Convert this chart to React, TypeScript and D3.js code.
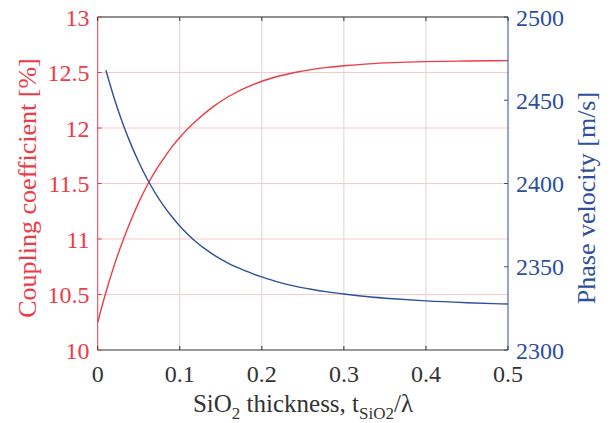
import React from "react";
import * as d3 from "d3";

const xTicks = [0, 0.1, 0.2, 0.3, 0.4, 0.5];
const yLeftTicks = [10, 10.5, 11, 11.5, 12, 12.5, 13];
const yRightTicks = [2300, 2350, 2400, 2450, 2500];

const couplingX = [0, 0.01, 0.02, 0.03, 0.04, 0.05, 0.06, 0.07, 0.08, 0.09, 0.1, 0.12, 0.14, 0.16, 0.18, 0.2, 0.22, 0.24, 0.26, 0.28, 0.3, 0.33, 0.36, 0.4, 0.45, 0.5];
const couplingY = [10.25, 10.52, 10.76, 10.97, 11.16, 11.33, 11.48, 11.61, 11.72, 11.825, 11.915, 12.065, 12.188, 12.286, 12.362, 12.421, 12.466, 12.5, 12.526, 12.546, 12.561, 12.578, 12.589, 12.598, 12.604, 12.607];

const velocityX = [0.01, 0.02, 0.03, 0.04, 0.05, 0.06, 0.07, 0.08, 0.09, 0.1, 0.11, 0.12, 0.13, 0.14, 0.15, 0.16, 0.17, 0.18, 0.19, 0.2, 0.22, 0.24, 0.26, 0.28, 0.3, 0.33, 0.36, 0.4, 0.45, 0.5];
const velocityY = [2468, 2451.4, 2436.8, 2424.1, 2412.9, 2403, 2394.4, 2386.9, 2380.3, 2374.5, 2369.4, 2364.9, 2361, 2357.6, 2354.6, 2351.9, 2349.6, 2347.5, 2345.6, 2343.9, 2340.8, 2338.4, 2336.5, 2334.9, 2333.6, 2332, 2330.8, 2329.5, 2328.4, 2327.6];

const RED = "#ee3b45";
const BLUE = "#2d4f9e";
const FONT = "'Liberation Serif', 'Times New Roman', serif";

export default function App() {
  const W = 614, H = 423;
  const L = 97.7, R = 508, T = 17, B = 350;
  const x = d3.scaleLinear().domain([0, 0.5]).range([L, R]);
  const yl = d3.scaleLinear().domain([10, 13]).range([B, T]);
  const yr = d3.scaleLinear().domain([2300, 2500]).range([B, T]);

  const redLine = d3.line<number>().x((_, i) => x(couplingX[i])).y((d) => yl(d)).curve(d3.curveMonotoneX)(couplingY) || "";
  const blueLine = d3.line<number>().x((_, i) => x(velocityX[i])).y((d) => yr(d)).curve(d3.curveMonotoneX)(velocityY) || "";

  return (
    <svg width={W} height={H} style={{ position: "absolute", left: 0, top: 0, background: "#fff", fontFamily: FONT }}>
      <rect x={0} y={0} width={W} height={H} fill="#fff" />
      {xTicks.slice(1, -1).map((t) => (
        <line key={"vg" + t} x1={x(t)} x2={x(t)} y1={T} y2={B} stroke="#d6d6d6" strokeWidth={1} />
      ))}
      {yLeftTicks.slice(1, -1).map((t) => (
        <line key={"hg" + t} x1={L} x2={R} y1={yl(t)} y2={yl(t)} stroke="#f9c9cc" strokeWidth={1} />
      ))}
      <path d={redLine} fill="none" stroke={RED} strokeWidth={1.4} />
      <path d={blueLine} fill="none" stroke={BLUE} strokeWidth={1.4} />
      <line x1={L} x2={R} y1={T} y2={T} stroke="#222" strokeWidth={1} />
      <line x1={L} x2={R} y1={B} y2={B} stroke="#333" strokeWidth={1} />
      <line x1={L} x2={L} y1={T} y2={B} stroke={RED} strokeWidth={1} />
      <line x1={R} x2={R} y1={T} y2={B} stroke={BLUE} strokeWidth={1} />
      {xTicks.map((t) => (
        <g key={"xt" + t}>
          <line x1={x(t)} x2={x(t)} y1={B} y2={B - 4} stroke="#333" />
          <line x1={x(t)} x2={x(t)} y1={T} y2={T + 4} stroke="#333" />
          <text x={x(t)} y={382} textAnchor="middle" fontSize={24} fill="#333">{String(t)}</text>
        </g>
      ))}
      {yLeftTicks.map((t) => (
        <g key={"yl" + t}>
          <line x1={L} x2={L + 4} y1={yl(t)} y2={yl(t)} stroke={RED} />
          <text x={89.5} y={yl(t) + 8.5} textAnchor="end" fontSize={24} fill={RED}>{String(t)}</text>
        </g>
      ))}
      {yRightTicks.map((t) => (
        <g key={"yr" + t}>
          <line x1={R} x2={R - 4} y1={yr(t)} y2={yr(t)} stroke={BLUE} />
          <text x={516} y={yr(t) + 8.5} textAnchor="start" fontSize={24} fill={BLUE}>{String(t)}</text>
        </g>
      ))}
      <text transform={`translate(36,188) rotate(-90)`} textAnchor="middle" fontSize={26} fill={RED}>Coupling coefficient [%]</text>
      <text transform={`translate(595,198) rotate(-90)`} textAnchor="middle" fontSize={26} fill={BLUE}>Phase velocity [m/s]</text>
      <text x={303} y={412} textAnchor="middle" fontSize={25} fill="#333">
        SiO<tspan dy={7} fontSize={17}>2</tspan>
        <tspan dy={-7}> thickness, t</tspan>
        <tspan dy={7} fontSize={17}>SiO2</tspan>
        <tspan dy={-7}>/λ</tspan>
      </text>
    </svg>
  );
}
